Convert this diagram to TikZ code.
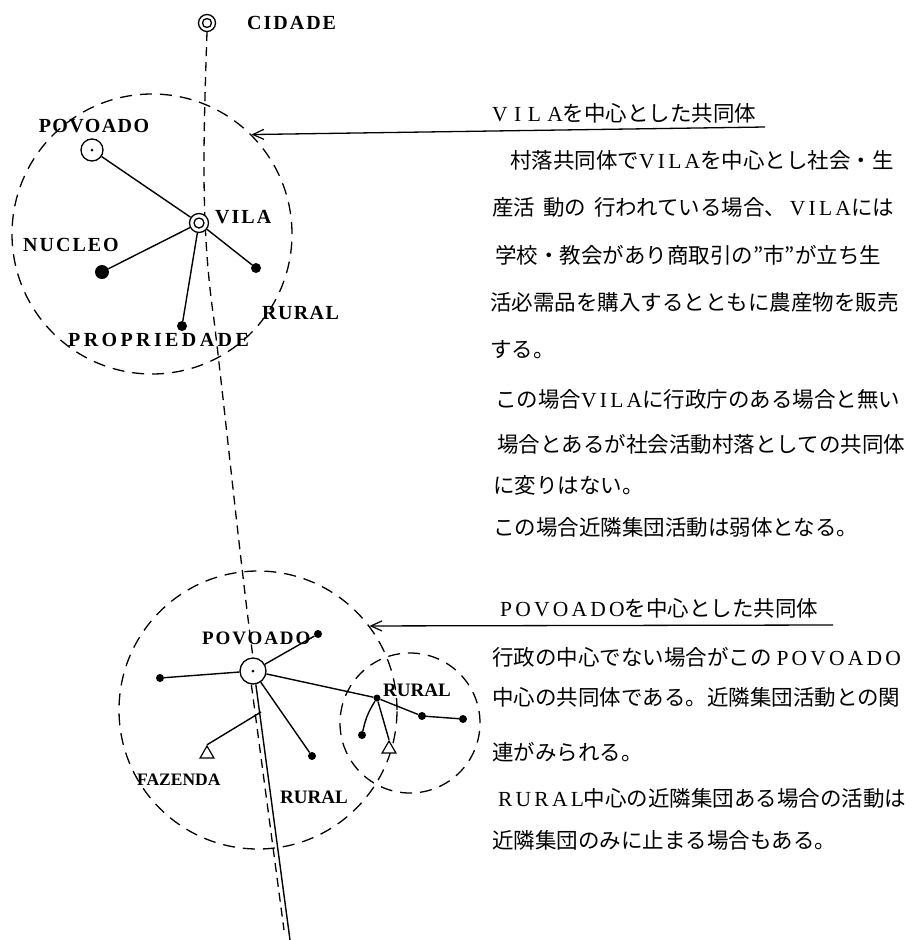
\documentclass[tikz,border=0pt]{standalone}
\usepackage{fontspec}
\setmainfont{Liberation Serif}
\newfontfamily\jp{Noto Sans CJK JP}
\newfontfamily\lab[LetterSpace=15]{Liberation Serif}
\newfontfamily\labx[LetterSpace=30]{Liberation Serif}
\newfontfamily\blab[LetterSpace=10]{Liberation Serif Bold}
\newfontfamily\blabs[LetterSpace=7]{Liberation Serif Bold}
\newfontfamily\blabw[LetterSpace=17]{Liberation Serif Bold}
\newfontfamily\blabn{Liberation Serif Bold}
\usetikzlibrary{arrows.meta,shapes.geometric}
\pgfdeclarelayer{bg}
\pgfsetlayers{bg,main}
\begin{document}
\begin{tikzpicture}[x=1pt,y=-1pt,
  jtext/.style={anchor=west, inner sep=0pt, font=\jp\fontsize{21.5}{21.5}\selectfont},
  lbl/.style={inner sep=0pt, font=\blab\fontsize{20}{20}\selectfont},
  lbls/.style={inner sep=0pt, font=\blabs\fontsize{20}{20}\selectfont},
  lblw/.style={inner sep=0pt, font=\blabw\fontsize{20}{20}\selectfont},
  lblp/.style={inner sep=0pt, font=\blabn\fontsize{#1}{#1}\selectfont},
  lblq/.style={inner sep=0pt, font=\blab\fontsize{19}{19}\selectfont},
  conn/.style={line width=1.4pt},
  dcirc/.style={draw, circle, inner sep=0pt, line width=1.3pt, dash pattern=on 12pt off 8pt},
  dline/.style={line width=1.3pt, dash pattern=on 9pt off 6pt},
  sdot/.style={circle, fill=black, inner sep=0pt, minimum size=#1},
  ringnode/.style={circle, draw, fill=white, line width=1.3pt, inner sep=0pt, minimum size=#1},
  trinode/.style={regular polygon, regular polygon sides=3, draw, fill=white, line width=1.2pt, inner sep=0pt, minimum size=16pt},
  arr/.style={line width=1.3pt, -{Straight Barb[length=11pt,width=10pt,line width=1.2pt]}}
]
\useasboundingbox (0,0) rectangle (918,940);

% ---------- upper community ----------
\node[dcirc, minimum size=280pt] (big1) at (152,234) {};
\node[ringnode=17pt] (cid) at (207,23) {};
\node[ringnode=9pt] (cidin) at (207,23) {};
\node[lbl, anchor=west] (cidl) at (247,23) {CIDADE};

\node[ringnode=22pt] (pov1) at (92,150) {};
\node[sdot=3pt] (pov1c) at (92,150) {};
\node[lbls] (pov1l) at (94,126) {POVOADO};
\node[ringnode=19pt] (vila) at (199,223) {};
\node[ringnode=10pt] (vilain) at (199,223) {};
\node[lbl, anchor=west] (vilal) at (215,217) {VILA};
\node[sdot=14pt] (nuc) at (102,272) {};
\node[lbl, anchor=west] (nucl) at (23,245) {NUCLEO};
\node[sdot=10pt] (rur1) at (256,268) {};
\node[lbls, anchor=west] (rur1l) at (262,313) {RURAL};
\node[sdot=10pt] (prop) at (182,326) {};
\node[lblw, anchor=west] (propl) at (68,340) {PROPRIEDADE};

% ---------- lower community ----------
\node[dcirc, minimum size=278pt] (big2) at (258,710) {};
\node[dcirc, minimum size=140pt] (small) at (410,723) {};
\node[ringnode=26pt] (pov2) at (253,671) {};
\node[sdot=3pt] (pov2c) at (253,671) {};
\node[lblq, anchor=west] (pov2l) at (202,638) {POVOADO};
\node[sdot=8pt] (d1) at (318,634) {};
\node[sdot=8pt] (d2) at (160,678) {};
\node[sdot=7pt] (hub) at (377,698) {};
\node[sdot=8pt] (d3) at (422,716) {};
\node[sdot=8pt] (d4) at (463,719) {};
\node[sdot=8pt] (d5) at (362,735) {};
\node[trinode] (t2) at (389,749) {};
\node[sdot=8pt] (d6) at (312,756) {};
\node[trinode] (t1) at (207,754) {};
\node[lblp=19, anchor=west] (rur2l) at (383,690) {RURAL};
\node[lblp=17.5, anchor=west] (fazl) at (137,780) {FAZENDA};
\node[lblp=19, anchor=west] (rur3l) at (280,797) {RURAL};
\coordinate (br) at (261,712);
\coordinate (end1) at (290,940);
\coordinate (end2) at (284,930);

% ---------- connectors ----------
\begin{pgfonlayer}{bg}
\draw[dline] (cid.south) .. controls (203,150) and (201,230) .. (214,320)
  .. controls (226,420) and (240,560) .. (pov2.north);
\draw[conn] (pov1) -- (vila);
\draw[conn] (vila) -- (nuc);
\draw[conn] (vila) -- (rur1);
\draw[conn] (vila) -- (prop);
\draw[conn] (pov2) -- (d1);
\draw[conn] (pov2) -- (d2);
\draw[conn] (pov2) -- (hub);
\draw[conn] (hub) -- (d3) -- (d4);
\draw[conn] (hub) to[bend right=10] (d5);
\draw[conn] (hub) -- (t2.corner 1);
\draw[conn] (br) -- (t1.corner 1);
\draw[conn] (pov2) -- (d6);
\draw[line width=1.4pt] (pov2.-78) -- (end1);
\draw[dline] (pov2.-97) -- (end2);
\end{pgfonlayer}

% ---------- arrows ----------
\coordinate (a1s) at (765,127);
\draw[arr] (a1s) -- (big1.45);
\coordinate (a2s) at (833,625);
\draw[arr] (a2s) -- (big2.37);

% ---------- texts ----------
\node[jtext] (h1) at (492,113) {{\labx VILA}を中心とした共同体};
\node[jtext] (p1) at (510,160) {村落共同体で{\lab VILA}を中心とし社会・生};
\node[jtext] (p2) at (492,207) {産活\hspace{8pt}動の\hspace{8pt}行われている場合、\hspace{4pt}{\lab VILA}には};
\node[jtext] (p3) at (495,255) {学校・教会があり商取引の”市”が立ち生};
\node[jtext] (p4) at (490,302) {活必需品を購入するとともに農産物を販売};
\node[jtext] (p5) at (490,350) {する。};
\node[jtext] (p6) at (495,399) {この場合{\lab VILA}に行政庁のある場合と無い};
\node[jtext] (p7) at (497,444) {場合とあるが社会活動村落としての共同体};
\node[jtext] (p8) at (493,485) {に変りはない。};
\node[jtext] (p9) at (493,527) {この場合近隣集団活動は弱体となる。};
\node[jtext] (h2) at (500,608) {{\lab POVOADO}を中心とした共同体};
\node[jtext] (q1) at (492,657) {行政の中心でない場合がこの {\lab POVOADO}};
\node[jtext] (q2) at (492,697) {中心の共同体である。近隣集団活動との関};
\node[jtext] (q3) at (492,752) {連がみられる。};
\node[jtext] (q4) at (498,798) {{\lab RURAL}中心の近隣集団ある場合の活動は};
\node[jtext] (q5) at (492,840) {近隣集団のみに止まる場合もある。};
\end{tikzpicture}
\end{document}
